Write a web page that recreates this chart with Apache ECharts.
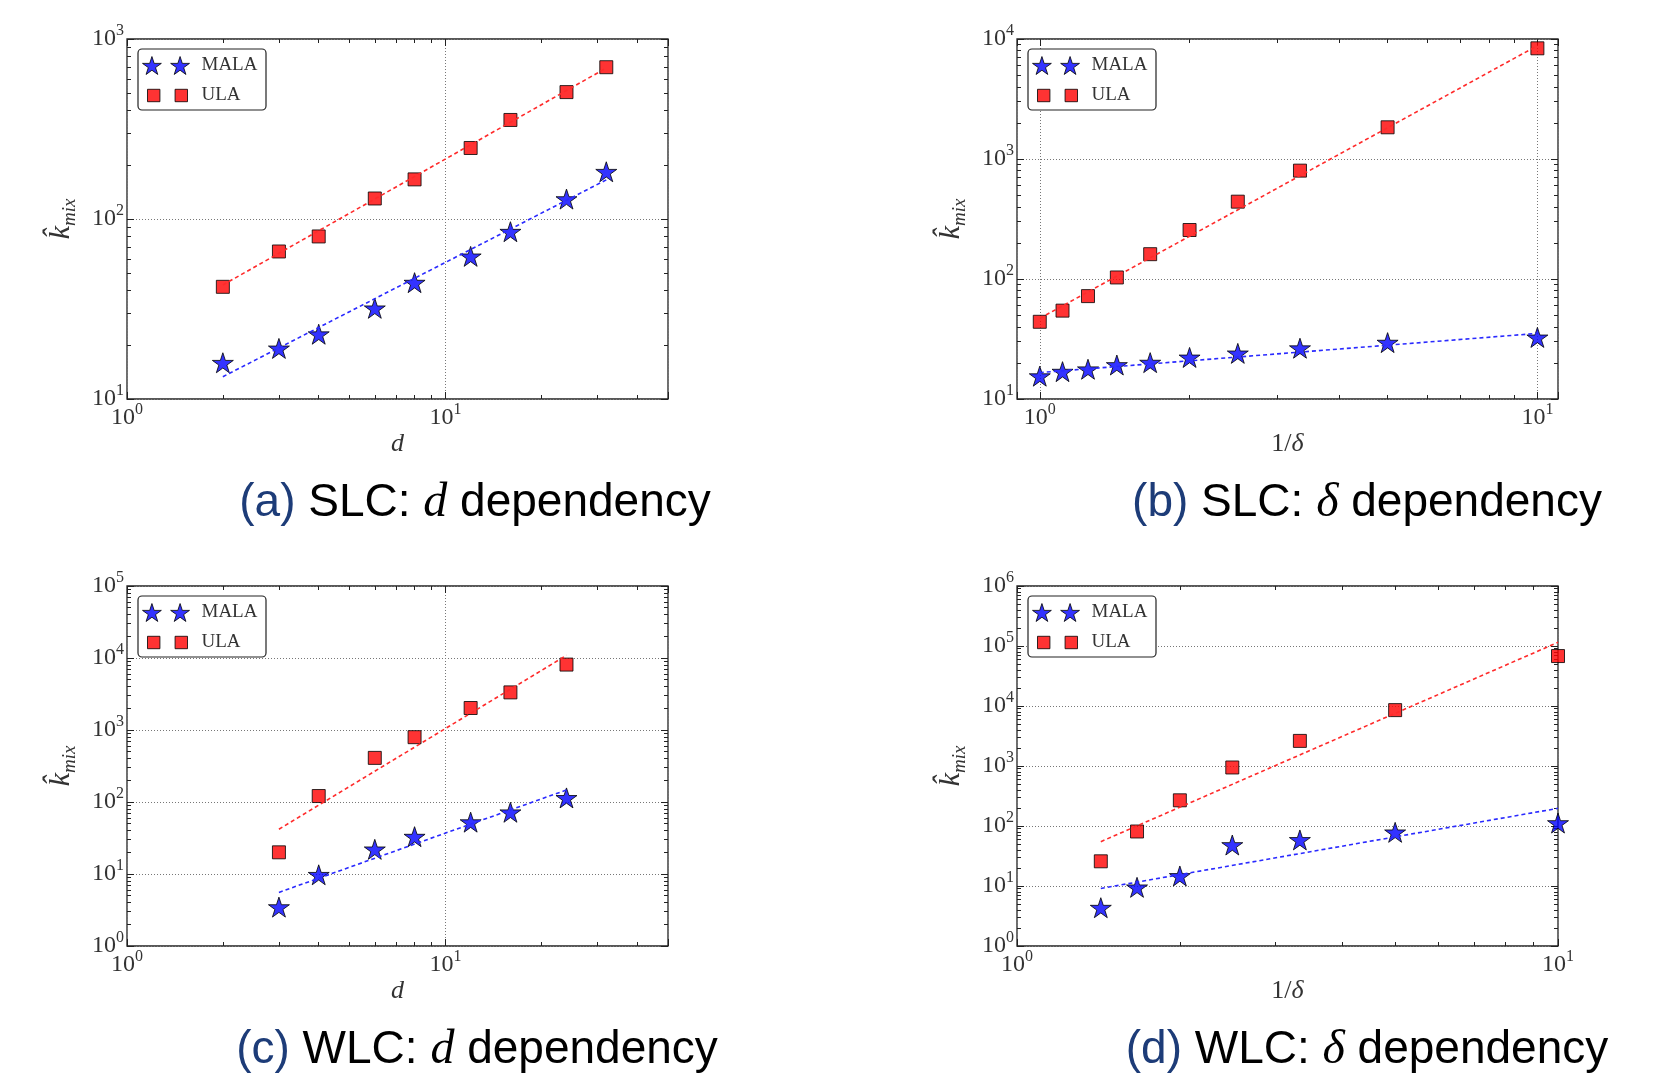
<!DOCTYPE html>
<html>
<head>
<meta charset="utf-8">
<script src="https://cdn.jsdelivr.net/npm/echarts@6/dist/echarts.min.js"></script>
<style>
html, body { margin: 0; padding: 0; background: #fff; }
#main { width: 1665px; height: 1075px; }
</style>
</head>
<body>
<div id="main"></div>
<script>
// (a) SLC: d dependency
const dA = [2, 3, 4, 6, 8, 12, 16, 24, 32];
const malaA = [15.9, 19.1, 22.9, 31.9, 44.3, 62, 85, 129, 183];
const ulaA = [42, 66, 80, 130, 166, 248, 355, 507, 697];
const fitXA = [2, 32];
const fitMalaA = [13.3, 165];
const fitUlaA = [43, 690];

// (b) SLC: delta dependency
const invDeltaB = [1, 1.111, 1.25, 1.4286, 1.6667, 2, 2.5, 3.3333, 5, 10];
const malaB = [15.5, 16.9, 17.7, 19.2, 20.1, 22.2, 24.0, 26.5, 29.5, 32.6];
const ulaB = [44, 54.5, 72, 103, 161, 256, 441, 800, 1837, 8363];
const fitXB = [1, 10];
const fitMalaB = [16.6, 35.2];
const fitUlaB = [47, 8800];

// (c) WLC: d dependency
const dC = [3, 4, 6, 8, 12, 16, 24];
const malaC = [3.47, 9.75, 22, 33, 52.5, 72, 114];
const ulaC = [20, 121, 410, 795, 2020, 3330, 8100];
const fitXC = [3, 24];
const fitMalaC = [5.55, 147];
const fitUlaC = [41.9, 10900];

// (d) WLC: delta dependency
const invDeltaD = [1.4286, 1.6667, 2, 2.5, 3.3333, 5, 10];
const malaD = [4.35, 9.5, 14.7, 48.2, 58.6, 78.4, 112];
const ulaD = [25.8, 81, 268, 945, 2620, 8540, 68000];
const fitXD = [1.4286, 10];
const fitMalaD = [9.1, 197];
const fitUlaD = [54.8, 115000];

const SERIF = '"Liberation Serif", "DejaVu Serif", serif';
const SANS = '"Liberation Sans", "DejaVu Sans", sans-serif';

// marker shapes
const STAR = 'path://M50,0L38.78,34.55L2.45,34.55L31.84,55.9L20.61,90.45L50,69.1L79.39,90.45L68.16,55.9L97.55,34.55L61.22,34.55Z';
const STAR2 = 'path://M50,0L38.78,34.55L2.45,34.55L31.84,55.9L20.61,90.45L50,69.1L79.39,90.45L68.16,55.9L97.55,34.55L61.22,34.55Z' +
    'M192,0L180.78,34.55L144.45,34.55L173.84,55.9L162.61,90.45L192,69.1L221.39,90.45L210.16,55.9L239.55,34.55L203.22,34.55Z';
const SQUARE2 = 'path://M0,0H100V100H0Z M222,0H322V100H222Z';

const panels = [
    { left: 127, top: 39, xMin: 1, xMax: 50, yMin: 10, yMax: 1000, xName: 'd',
      x: dA, mala: malaA, ula: ulaA, fitX: fitXA, fitMala: fitMalaA, fitUla: fitUlaA,
      tag: '(a)', head: ' SLC: ', sym: 'd', capX: 475, capY: 503 },
    { left: 1017, top: 39, xMin: 0.9, xMax: 11, yMin: 10, yMax: 10000, xName: '1/δ',
      x: invDeltaB, mala: malaB, ula: ulaB, fitX: fitXB, fitMala: fitMalaB, fitUla: fitUlaB,
      tag: '(b)', head: ' SLC: ', sym: 'δ', capX: 1367, capY: 503 },
    { left: 127, top: 586, xMin: 1, xMax: 50, yMin: 1, yMax: 100000, xName: 'd',
      x: dC, mala: malaC, ula: ulaC, fitX: fitXC, fitMala: fitMalaC, fitUla: fitUlaC,
      tag: '(c)', head: ' WLC: ', sym: 'd', capX: 477, capY: 1050 },
    { left: 1017, top: 586, xMin: 1, xMax: 10, yMin: 1, yMax: 1000000, xName: '1/δ',
      x: invDeltaD, mala: malaD, ula: ulaD, fitX: fitXD, fitMala: fitMalaD, fitUla: fitUlaD,
      tag: '(d)', head: ' WLC: ', sym: 'δ', capX: 1367, capY: 1050 }
];

const W = 541, H = 360;

// tick labels like 10^k
const tickRich = {
    b: { fontFamily: SERIF, fontSize: 24, color: '#333', lineHeight: 32 },
    s: { fontFamily: SERIF, fontSize: 16, color: '#333', lineHeight: 15, verticalAlign: 'top' }
};
function powLabel(v) {
    const l = Math.log10(v);
    const e = Math.round(l);
    if (Math.abs(l - e) > 1e-6) return '';
    return '{b|10}{s|' + e + '}';
}

function logAxis(gi, min, max, position, main) {
    return {
        type: 'log', logBase: 10, gridIndex: gi, min: min, max: max, position: position,
        axisLine: { show: false },
        axisTick: { show: true, inside: true, length: 7, lineStyle: { color: '#222', width: 1 } },
        minorTick: { show: true, splitNumber: 9, length: 4, lineStyle: { color: '#222', width: 1 } },
        axisLabel: { show: main, formatter: powLabel, rich: tickRich, margin: 3, showMinLabel: true, showMaxLabel: true },
        splitLine: { show: main, lineStyle: { type: [1, 2], color: '#777', width: 1 } },
        z: 3
    };
}

const option = { animation: false, grid: [], xAxis: [], yAxis: [], series: [], legend: [], graphic: [] };

panels.forEach((p, i) => {
    option.grid.push({ left: p.left, top: p.top, width: W, height: H, show: true,
        borderColor: '#222', borderWidth: 1.3, backgroundColor: 'transparent' });

    const mx = logAxis(i, p.xMin, p.xMax, 'bottom', true);
    mx.name = p.xName === 'd' ? '{i|d}' : '{r|1/}{i|δ}';
    mx.nameLocation = 'middle';
    mx.nameGap = 32;
    mx.nameTextStyle = { rich: {
        i: { fontFamily: SERIF, fontStyle: 'italic', fontSize: 26, color: '#333' },
        r: { fontFamily: SERIF, fontSize: 26, color: '#333' }
    } };
    option.xAxis.push(mx, logAxis(i, p.xMin, p.xMax, 'top', false));

    const my = logAxis(i, p.yMin, p.yMax, 'left', true);
    my.name = '{k|k̂}{m|mix}';
    my.nameLocation = 'middle';
    my.nameGap = 48;
    my.nameRotate = 90;
    my.nameTextStyle = { rich: {
        k: { fontFamily: SERIF, fontStyle: 'italic', fontSize: 30, color: '#333', lineHeight: 36 },
        m: { fontFamily: SERIF, fontStyle: 'italic', fontSize: 19, color: '#333', lineHeight: 19, verticalAlign: 'bottom' }
    } };
    option.yAxis.push(my, logAxis(i, p.yMin, p.yMax, 'right', false));

    const xi = 2 * i;
    option.series.push(
        { name: 'MALA', type: 'scatter', xAxisIndex: xi, yAxisIndex: xi,
          symbol: STAR, symbolSize: 21, symbolKeepAspect: true, z: 3,
          itemStyle: { color: '#0000ff', borderColor: '#000', borderWidth: 1 },
          data: p.x.map((v, j) => [v, p.mala[j]]) },
        { name: 'ULA', type: 'scatter', xAxisIndex: xi, yAxisIndex: xi,
          symbol: 'rect', symbolSize: 13, z: 3,
          itemStyle: { color: '#ff0000', borderColor: '#000', borderWidth: 1 },
          data: p.x.map((v, j) => [v, p.ula[j]]) },
        { name: 'MALA fit', type: 'line', xAxisIndex: xi, yAxisIndex: xi, showSymbol: false, z: 4,
          lineStyle: { color: '#2a2aff', width: 1.6, type: [4, 3] },
          data: p.fitX.map((v, j) => [v, p.fitMala[j]]) },
        { name: 'ULA fit', type: 'line', xAxisIndex: xi, yAxisIndex: xi, showSymbol: false, z: 4,
          lineStyle: { color: '#ff2a2a', width: 1.6, type: [4, 3] },
          data: p.fitX.map((v, j) => [v, p.fitUla[j]]) }
    );

    // legend frame
    option.graphic.push({ type: 'rect', z: 50,
        shape: { x: p.left + 11, y: p.top + 10, width: 128, height: 61, r: 4 },
        style: { fill: '#fff', stroke: '#222', lineWidth: 1.2 } });

    const legText = { fontFamily: SERIF, fontSize: 19, color: '#333' };
    option.legend.push(
        { left: p.left + 15, top: p.top + 17, padding: 0, z: 60, selectedMode: false,
          itemWidth: 47, itemHeight: 18, symbolKeepAspect: true,
          textStyle: Object.assign({ padding: [0, 0, 0, 7] }, legText),
          data: [{ name: 'MALA', icon: STAR2, itemStyle: { color: '#0000ff', borderColor: '#000', borderWidth: 1 } }] },
        { left: p.left + 20, top: p.top + 47, padding: 0, z: 60, selectedMode: false,
          itemWidth: 40, itemHeight: 12.5, symbolKeepAspect: true,
          textStyle: Object.assign({ padding: [0, 0, 0, 9] }, legText),
          data: [{ name: 'ULA', icon: SQUARE2, itemStyle: { color: '#ff0000', borderColor: '#000', borderWidth: 1 } }] }
    );

    // caption
    option.graphic.push({ type: 'text', x: p.capX, y: p.capY, z: 10,
        style: {
            text: '{p|' + p.tag + '}{t|' + p.head + '}{m|' + p.sym + '}{t| dependency}',
            align: 'center', verticalAlign: 'middle',
            rich: {
                p: { fontFamily: SANS, fontSize: 46, fill: '#1d3c78' },
                t: { fontFamily: SANS, fontSize: 46, fill: '#000' },
                m: { fontFamily: SERIF, fontStyle: 'italic', fontSize: 48, fill: '#000' }
            }
        } });
});

const chart = echarts.init(document.getElementById('main'), null, { renderer: 'canvas' });
chart.setOption(option);
</script>
</body>
</html>
